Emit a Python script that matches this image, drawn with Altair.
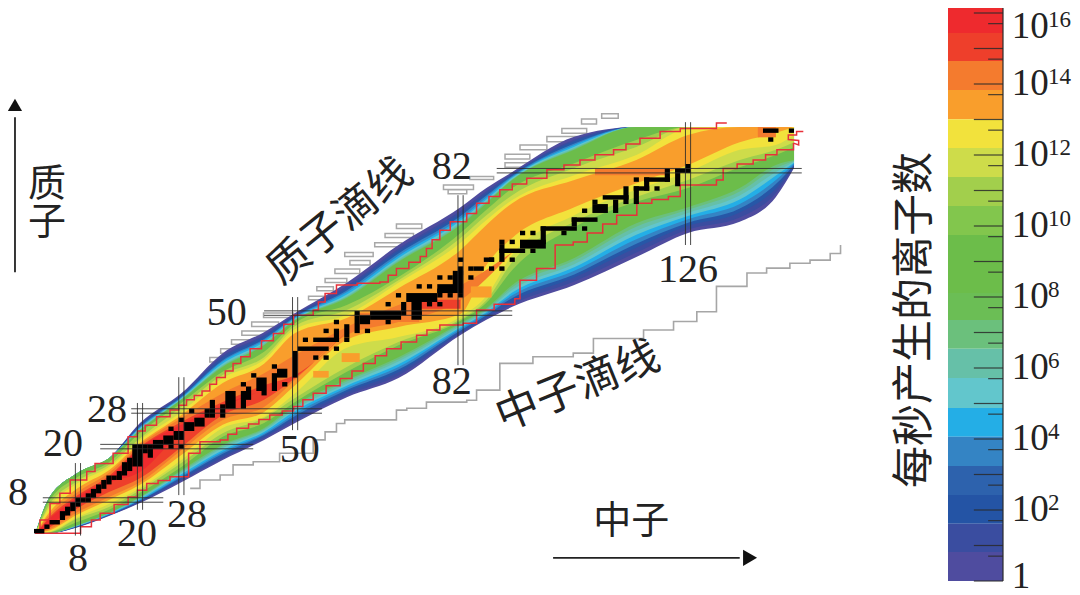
import altair as alt
import pandas as pd

# ---- neutron-number columns at which the production contours were read ----
N_COLS = [0, 2, 8, 14, 20, 28, 36, 44, 50, 60, 70, 82, 87, 92, 104, 116, 126, 136, 143, 146.5]
T = 91.8

# upper (proton-rich) edge, in Z, of every contour level
U01 = [1.3, 7.5, 14.1, 17.4, 25.3, 32, 41, 45.7, 50, 56.8, 65.3, 73.8, 78.1, 81.7, 89.6, T, T, T, T, T]
U02 = [1.3, 7.5, 14.1, 17.4, 25.0, 31.7, 40.4, 45.1, 49.7, 56.1, 64.5, 73, 77.4, 81.3, 89, T, T, T, T, T]
U03 = [1.3, 7.5, 14.1, 17.4, 24.7, 31.5, 39.9, 44.7, 49.4, 55.6, 64, 72.4, 76.9, 81.1, 88.6, T, T, T, T, T]
U04 = [1.3, 7.5, 14.1, 17.4, 24.5, 31.2, 39.4, 44.2, 49.2, 55.1, 63.4, 71.8, 76.4, 80.8, 88.1, T, T, T, T, T]
U05 = [1.3, 7.5, 14.1, 17.4, 24.3, 31, 39.1, 43.9, 49, 54.7, 62.9, 71.3, 76, 80.6, 87.8, T, T, T, T, T]
U06 = [1.3, 7.5, 14.1, 17.4, 24.1, 30.9, 38.7, 43.5, 48.8, 54.2, 62.4, 70.8, 75.5, 80.4, 87.4, T, T, T, T, T]
U07 = [1.3, 7.5, 14.1, 17.4, 23.9, 30.7, 38.3, 43.2, 48.6, 53.8, 62, 70.3, 75.1, 80.1, 87.1, T, T, T, T, T]
U08 = [1.3, 7.5, 14.1, 17.4, 23.8, 30.6, 38.1, 42.9, 48.5, 53.6, 61.7, 70, 74.9, 80, 86.9, T, T, T, T, T]
U09 = [1.3, 7.5, 14.1, 17.4, 23.7, 30.5, 37.9, 42.8, 48.4, 53.4, 61.5, 69.8, 74.7, 79.9, 86.7, T, T, T, T, T]
U10 = [1.3, 6.8, 13.2, 16.5, 23.1, 29.8, 36.8, 41.3, 47.8, 51.8, 58.1, 68, 73.2, 78.1, 83.7, 88.9, T, T, T, T]
U11 = [1.0, 6, 12.3, 15.9, 21.9, 28.9, 36.1, 40.1, 47.1, 50.7, 57.4, 66.9, 72, 76.5, 82.6, 87.3, T, T, T, T]
U12 = [1.0, 5.5, 11.8, 15.4, 21.5, 27.8, 35.4, 39.5, 46.4, 49.6, 56.8, 65.8, 70.9, 75.4, 81, 85.5, 91.4, T, T, T]
U13 = [0.8, 4.5, 10.7, 14.7, 20.8, 27.1, 34.3, 38.6, 45.5, 48.9, 55.6, 64.2, 69.8, 74.7, 79.9, 84.4, 90, T, T, T]

# lower (neutron-rich) edge, in Z, of every contour level
D01 = [0.5, 0.5, 1.9, 4.4, 7.3, 12, 17, 21.5, 25.3, 31.1, 35.4, 45.1, 48.5, 51.4, 56.3, 62.6, 68, 70.5, 76.1, 82.6]
D02 = [0.5, 0.5, 2, 4.5, 7.5, 12.4, 17.4, 21.9, 25.8, 31.6, 36, 45.4, 48.8, 52, 57.1, 63.6, 68.8, 71.5, 77, 82.8]
D03 = [0.5, 0.5, 2, 4.6, 7.7, 12.7, 17.9, 22.2, 26.4, 32.2, 36.7, 45.8, 49.2, 52.7, 58, 64.7, 69.6, 72.6, 78, 83.1]
D04 = [0.5, 0.5, 2.1, 4.7, 7.9, 13.1, 18.4, 22.6, 26.9, 32.7, 37.3, 46.1, 49.5, 53.4, 58.7, 65.6, 70.3, 73.5, 79, 83.3]
D05 = [0.5, 0.5, 2.2, 4.8, 8, 13.4, 18.8, 22.9, 27.4, 33.2, 37.9, 46.5, 49.9, 54, 59.5, 66.6, 71.1, 74.5, 79.9, 83.6]
D06 = [0.5, 0.5, 2.2, 4.9, 8.2, 13.8, 19.2, 23.3, 28, 33.7, 38.5, 46.8, 50.2, 54.6, 60.3, 67.6, 71.8, 75.5, 80.9, 83.8]
D07 = [0.5, 0.5, 2.3, 5, 8.4, 14.1, 19.7, 23.6, 28.4, 34.1, 39.1, 47.1, 50.5, 55.2, 61, 68.5, 72.5, 76.4, 81.7, 84]
D08 = [0.5, 0.5, 2.4, 5, 8.6, 14.4, 20.1, 23.9, 28.9, 34.6, 39.6, 47.5, 50.8, 55.8, 61.8, 69.4, 73.2, 77.3, 82.6, 84.2]
D09 = [0.5, 0.5, 2.4, 5.1, 8.7, 14.7, 20.4, 24.2, 29.3, 35, 40.1, 47.8, 51.1, 56.3, 62.4, 70.2, 73.8, 78.1, 83.3, 84.4]
D10 = [0.5, 0.6, 3.1, 5.8, 9.6, 15.4, 22.2, 25.3, 30, 36.8, 42.8, 48.3, 52.3, 59.7, 69.3, 75, 78.1, 82.8, 85.5, 87.3]
D11 = [0.7, 0.7, 3.9, 6.4, 10.2, 16.3, 23, 26.4, 30.9, 37.9, 43.5, 48.6, 52.9, 61.5, 70.5, 76.1, 79.9, 84.4, 86.7, 88.4]
D12 = [0.7, 0.8, 4.2, 7.1, 10.7, 17, 24.2, 26.7, 32, 42.2, 44.6, 49.2, 53.8, 63.1, 72, 77.7, 81.7, 86.7, 87.8, 90]
D13 = [0.7, 1, 4.8, 8, 11.4, 18.1, 24.9, 27.8, 33.8, 44, 46.9, 49.8, 60.8, 66.9, 73.8, 79.2, 83.3, 88.4, 90.5, T]

# hottest levels exist only at low N
N14 = [0, 2, 8, 14, 20, 28, 36, 44, 50, 60, 70, 82, 92]
U14 = [0.8, 4, 9.8, 14.1, 20.4, 26.4, 32, 36.5, 40.6, 46.9, 51.8, 56.3, 63.7]
D14 = [0.7, 1.2, 5.3, 8.7, 12, 19.2, 26, 28.9, 35, 45.1, 48, 52.9, 63.7]
N15 = [0, 2, 8, 14, 20, 28, 36, 44, 50, 60]
U15 = [0.6, 3.5, 9.1, 13.4, 19.9, 25.5, 30, 33.8, 36.1, 45.8]
D15 = [0.4, 1.5, 6.2, 9.8, 12.9, 19.9, 27.1, 30.5, 35.4, 45.8]
N16 = [0, 2, 8, 14, 20, 28, 36, 44]
U16 = [0.6, 3.2, 8.7, 12.9, 19.7, 24.9, 29.3, 32.7]
D16 = [0.4, 2, 6.9, 11.8, 14.3, 23.3, 28.9, 32.7]

LEVEL_COLORS = ["#4f4c9f", "#3a4da0", "#2757a7", "#3484c4", "#24aee6", "#62c6cc", "#66c0a8", "#6bc07c",
                "#6cbd4a", "#9fce4c", "#cedc4a", "#f2e23c", "#f99e2c", "#f47b2e", "#ee3f2b", "#ee2a2e"]

# small isolated patches: n0, n1, z0, z1, colour
PATCHES = [(74, 82, 51, 53, "#ee3f2b"), (62, 74, 48, 50, "#f47b2e"), (108, 122, 81, 82.5, "#f47b2e"),
           (139.5, 143, 89.5, 91.8, "#f47b2e"), (53.5, 56.5, 35.5, 37, "#f99e2c"), (59, 62.5, 39, 41, "#f99e2c"),
           (84, 88, 53.5, 56, "#f99e2c")]

# black cells: runs n0, n1, z0, z1 (inclusive)
BLACK_RUNS = [(0, 1, 1, 1), (2, 2, 2, 2), (3, 4, 3, 3), (5, 5, 4, 5), (6, 6, 5, 6), (7, 7, 6, 7), (8, 8, 7, 8),
              (9, 9, 8, 8), (10, 10, 8, 9), (11, 11, 9, 10), (12, 12, 10, 11), (13, 13, 11, 12), (14, 14, 12, 13),
              (15, 15, 13, 13), (16, 16, 13, 14), (17, 17, 14, 16), (18, 18, 15, 17), (19, 20, 16, 20), (21, 21, 19, 20),
              (22, 22, 18, 20), (23, 24, 20, 21), (25, 26, 21, 22), (27, 28, 22, 23), (29, 30, 24, 25), (31, 32, 25, 26),
              (33, 33, 27, 28), (34, 34, 27, 30), (36, 36, 27, 29), (37, 38, 29, 32), (40, 40, 29, 32), (41, 41, 31, 33),
              (43, 44, 33, 35), (46, 46, 33, 36), (47, 48, 36, 37), (50, 50, 36, 41),
              (51, 56, 42, 42), (54, 58, 44, 44), (58, 58, 44, 46), (60, 60, 45, 47), (62, 62, 46, 49), (63, 64, 48, 49),
              (65, 70, 49, 50), (71, 71, 50, 52), (72, 77, 53, 54), (73, 74, 49, 53), (78, 78, 54, 55), (78, 82, 55, 56),
              (81, 82, 56, 59), (82, 82, 59, 60), (85, 86, 60, 60), (87, 88, 62, 62), (90, 90, 62, 65), (90, 94, 64, 64),
              (94, 98, 65, 66), (98, 98, 66, 69), (98, 104, 69, 69), (104, 104, 70, 71), (104, 108, 71, 71), (108, 110, 73, 74),
              (112, 112, 73, 75), (110, 114, 76, 76), (114, 114, 75, 78), (116, 116, 75, 78), (116, 118, 78, 78), (118, 118, 78, 80),
              (118, 122, 80, 80), (122, 122, 80, 82), (124, 124, 79, 82), (124, 126, 82, 82), (126, 126, 82, 83),
              (141, 143, 91, 91), (146, 146, 91, 91)]
BLACK_DOTS = [(26, 24), (28, 26), (30, 28), (26, 20), (28, 20), (44, 32), (40, 34), (42, 36), (46, 38), (48, 34),
              (54, 40), (56, 40), (52, 44), (56, 46), (58, 42), (58, 48), (60, 44), (64, 46), (68, 48), (62, 50),
              (68, 52), (70, 54), (76, 52), (78, 52), (80, 54), (74, 50), (74, 56), (76, 56), (78, 58), (80, 58),
              (84, 58), (82, 62), (82, 54), (84, 60), (88, 60), (90, 60), (88, 62), (90, 66), (92, 66), (92, 62),
              (94, 68), (96, 68), (96, 64), (102, 68), (106, 69), (106, 73), (108, 75), (116, 80), (120, 78), (142, 89)]

# red boundary of the known nuclides
RED_UP_N = [0, 0.65, 2.6, 4.5, 6.5, 9.7, 11.3, 14.8, 17.7, 19.5, 21, 23.2, 25.8, 27.5, 29, 30.5, 32, 33.5, 34.8, 36.5, 38, 39.5, 41.3, 43.5, 45.8, 47.8, 49.7, 53.5, 54.5, 55.8, 58, 62, 66.4, 68, 69.6,
            72, 74.2, 75.4, 76.5, 78, 80, 83.2, 85.1, 87.5, 89.6, 92, 94.8, 98.7, 102, 105.1, 108, 111.6, 114, 116.7, 120.6, 124.5, 131.5, 133.5]
RED_UP_Z = [1.3, 3.5, 7.2, 9.5, 12.5, 14.4, 16.2, 18.5, 22.2, 23.5, 24.8, 26.7, 28.2, 29.3, 30.5, 31.5, 32.5, 34, 35.5, 37, 38.7, 40.2, 42, 43.8, 45.4, 47.5, 49.5, 50.7, 52.5, 54.4, 56.3, 56.7, 57, 58.5, 60,
            61.4, 62.7, 64.5, 66.5, 68.6, 70.5, 72.4, 74.7, 76.2, 77.7, 79, 80.3, 82.2, 83.3, 84.4, 85.6, 86.7, 88, 89.3, 90.8, 91.5, 92.7, 92.7]
RED_DN_N = [-0.3, 6.5, 8.5, 10.6, 12.3, 15, 17.7, 19.5, 21.3, 23.5, 25.8, 29.4, 31.6, 35.5, 37, 38.7, 41, 43, 45.1, 47.5, 49.7, 51.5, 53.5, 56, 58.7, 61, 63.2, 65.5, 67.7, 70.5, 73.5, 75.5, 78, 82.5, 85.1, 88.5, 92.5, 93.5, 96.7,
            100.3, 103.8, 106.5, 109.5, 112.2, 116.1, 119, 122.2, 124.5, 131.5, 132.8, 135.5, 138.6, 141, 143.2, 146.4]
RED_DN_Z = [0.5, 0.5, 2, 3.5, 5, 7, 8.7, 10.2, 11.7, 12.4, 13.2, 18.5, 21.1, 21.5, 22.8, 24.1, 25.1, 26.1, 27.1, 28, 29, 30.5, 32, 33.7, 35.3, 37, 38.7, 40.4, 42, 43.5, 45, 46.2, 47.3, 47.7, 50.7, 52, 53.2, 57.4, 60,
            65.3, 66, 68, 70, 72, 74.7, 75.5, 76.2, 78.8, 79.9, 82.5, 83.5, 84.4, 85.6, 86.7, 88.2]
RED_END_N = [146.4, 147.4, 147.4, 145.4, 145.4, 147, 147, 148.3]
RED_END_Z = [88.2, 87.8, 88.8, 89, 90, 90, 90.8, 90.8]

# neutron drip line (grey)
NDRIP_N = [29.7, 31.6, 35.5, 38, 41.9, 47, 53.5, 55.8, 58, 59.6, 69.6, 71.6, 75.4, 83.2, 85.1, 89.6, 96, 103.8, 107.7, 117.4, 123.2, 127.7, 131.5, 137.4, 141.2, 145.7, 149.6, 153.5, 155.5]
NDRIP_Z = [10.6, 12.5, 13.6, 15.9, 16.6, 18.5, 21.5, 23.3, 25.2, 26, 28.2, 28.6, 30, 30.4, 32.7, 38.7, 40.2, 41, 44.3, 46.2, 48.1, 50.3, 56, 59, 60.1, 61.2, 61.9, 63.4, 65.3]

# proton drip line outlines: n0, n1, z0, z1
PDRIP = [(109.3, 112.5, 93.8, 94.8), (105.4, 108.3, 92.5, 93.6), (101.6, 106.4, 90.4, 91.5), (98.7, 104.5, 88.5, 89.7),
         (93.5, 98.7, 86.7, 87.8), (90.6, 95.4, 84.6, 85.7), (90.6, 95.4, 82.8, 83.8), (83.8, 88.4, 80, 80.7),
         (78.7, 84.5, 77.8, 78.8), (79.6, 83.2, 76.8, 77.7), (69.6, 74.5, 69, 70), (67.4, 72.9, 67, 67.9),
         (65.4, 70.6, 64.9, 65.8), (59.6, 65.1, 62.7, 63.6), (60.6, 64.5, 60.8, 61.8), (57.7, 62.5, 58.9, 59.9),
         (55.8, 60, 56.9, 57.8), (54.2, 57.4, 55, 55.9), (52.6, 55.8, 53, 53.8), (43.9, 49.7, 49, 50),
         (41.6, 46.8, 47, 48), (39.7, 44.5, 45, 46), (37.7, 41.9, 43, 44), (35.6, 40.3, 41, 42), (33.5, 38, 39, 40)]

# magic numbers: value, from, to
MAGIC_N = [(8, 0, 16.3), (20, 5.8, 29.8), (28, 9.1, 35.6), (50, 23.7, 53.6), (82, 38.3, 76.5), (126, 65.3, 92.9)]
MAGIC_Z = [(8, 1.2, 24.5), (20, 12.3, 41.9), (28, 18.3, 55.2), (50, 44, 92), (82, 89, 148)]
NUMBER_LABELS = [("8", -3.6, 9.6), ("20", 5.1, 20.6), ("28", 13.6, 28.2), ("50", 36.8, 50), ("82", 80.3, 82.8),
                 ("8", 8, -5.3), ("20", 19.4, 0.4), ("28", 29.1, 4.6), ("50", 50.9, 19.2), ("82", 80.3, 34.5), ("126", 126, 59.7)]
WORD_LABELS = [("质子滴线", 58.7, 70.5, 321), ("中子滴线", 104.7, 33.4, 338), ("质\n子", 2, 78.8, 0), ("中子", 115, 3.1, 0)]

# colour bar
BAND_EDGES = [16.25, 15.44, 14.65, 13.83, 13.01, 12.2, 11.38, 10.56, 9.75, 8.93, 8.11, 7.35, 6.54, 5.72, 4.87, 4.06, 3.24, 2.42, 1.61, 0.82, 0]
BAND_COLORS = ["#ee2a2e", "#ee3f2b", "#f47b2e", "#f99e2c", "#f2e23c", "#cedc4a", "#a2cf4c", "#82c64d", "#6cbd4a", "#6cbd4a",
               "#6bbe55", "#6bc07c", "#66c0a8", "#62c6cc", "#24aee6", "#3484c4", "#2d62ad", "#2454a5", "#3a4da0", "#4f4c9f"]
MAJOR = list(range(0, 17))
MINOR = [0.7, 1.7, 2.7, 3.7, 4.7, 5.7, 6.7, 7.7, 8.7, 9.7, 10.7, 11.7, 12.7, 13.7, 14.7, 15.7]
CB_LABELS = [("1", 0.1, ""), ("10", 2, "2"), ("10", 4, "4"), ("10", 6, "6"), ("10", 8, "8"), ("10", 10, "10"),
             ("10", 12, "12"), ("10", 14, "14"), ("10", 15.6, "16")]

SERIF = "Liberation Serif"
CJK = "Noto Sans CJK SC"
W, H = 1064, 587
XS = alt.Scale(domain=[-5.532, 200.27], nice=False, zero=False)
YS = alt.Scale(domain=[-13.35, 118.56], nice=False, zero=False)
CXS = alt.Scale(domain=[0, 1], range=[940, 995], nice=False, zero=False)
CYS = alt.Scale(domain=[0, 16], range=[573, 5], nice=False, zero=False)


def X(f):
    return alt.X(f, type="quantitative", scale=XS, axis=None)


def Y(f):
    return alt.Y(f, type="quantitative", scale=YS, axis=None)


def CX(f):
    return alt.X(f, type="quantitative", scale=CXS, axis=None)


def CY(f):
    return alt.Y(f, type="quantitative", scale=CYS, axis=None)


layers = []

# grey proton drip outlines and neutron drip line go underneath
pd_df = pd.DataFrame(PDRIP, columns=["n0", "n1", "z0", "z1"])
layers.append(alt.Chart(pd_df).mark_rect(fill="white", stroke="#a8a8a8", strokeWidth=1.5).encode(
    x=X("n0"), x2="n1", y=Y("z0"), y2="z1"))
layers.append(alt.Chart(pd.DataFrame({"n": NDRIP_N, "z": NDRIP_Z})).mark_line(
    interpolate="step-after", color="#a6a6a6", strokeWidth=1.6).encode(x=X("n"), y=Y("z")))

# nested contour levels
levels = [(N_COLS, U01, D01), (N_COLS, U02, D02), (N_COLS, U03, D03), (N_COLS, U04, D04), (N_COLS, U05, D05),
          (N_COLS, U06, D06), (N_COLS, U07, D07), (N_COLS, U08, D08), (N_COLS, U09, D09), (N_COLS, U10, D10),
          (N_COLS, U11, D11), (N_COLS, U12, D12), (N_COLS, U13, D13), (N14, U14, D14), (N15, U15, D15), (N16, U16, D16)]
for (ns, up, dn), col in zip(levels, LEVEL_COLORS):
    df = pd.DataFrame({"n": ns, "up": up, "dn": dn})
    layers.append(alt.Chart(df).mark_area(color=col, interpolate="monotone", opacity=1).encode(
        x=X("n"), y=Y("dn"), y2="up"))

# patches
patch_df = pd.DataFrame(PATCHES, columns=["n0", "n1", "z0", "z1", "c"])
layers.append(alt.Chart(patch_df).mark_rect().encode(
    x=X("n0"), x2="n1", y=Y("z0"), y2="z1", color=alt.Color("c:N", scale=None)))

# red contour
for ns, zs, interp in [(RED_UP_N, RED_UP_Z, "step-after"), (RED_DN_N, RED_DN_Z, "step-after")]:
    layers.append(alt.Chart(pd.DataFrame({"n": ns, "z": zs})).mark_line(
        interpolate=interp, color="#e8303a", strokeWidth=1.5).encode(x=X("n"), y=Y("z")))
layers.append(alt.Chart(pd.DataFrame({"n": RED_END_N, "z": RED_END_Z, "i": list(range(len(RED_END_N)))})).mark_line(
    color="#e8303a", strokeWidth=1.5).encode(x=X("n"), y=Y("z"), order="i:Q"))

# black cells
runs = BLACK_RUNS + [(n, n, z, z) for n, z in BLACK_DOTS]
bk = pd.DataFrame(runs, columns=["n0", "n1", "z0", "z1"])
bk["a"], bk["b"], bk["c"], bk["d"] = bk.n0 - 0.5, bk.n1 + 0.5, bk.z0 - 0.5, bk.z1 + 0.5
layers.append(alt.Chart(bk).mark_rect(color="black").encode(x=X("a"), x2="b", y=Y("c"), y2="d"))

# magic number lines
vm = pd.DataFrame([(m + s, a, b) for m, a, b in MAGIC_N for s in (-0.5, 0.5)], columns=["n", "a", "b"])
hm = pd.DataFrame([(m + s, a, b) for m, a, b in MAGIC_Z for s in (-0.5, 0.5)], columns=["z", "a", "b"])
layers.append(alt.Chart(vm).mark_rule(color="#2a2a2a", strokeWidth=1, opacity=0.85).encode(x=X("n"), y=Y("a"), y2="b"))
layers.append(alt.Chart(hm).mark_rule(color="#2a2a2a", strokeWidth=1, opacity=0.85).encode(y=Y("z"), x=X("a"), x2="b"))

# text
layers.append(alt.Chart(pd.DataFrame(NUMBER_LABELS, columns=["t", "n", "z"])).mark_text(
    font=SERIF, fontSize=40, color="#222").encode(x=X("n"), y=Y("z"), text="t:N"))
for t, n, z, ang in WORD_LABELS:
    size = 43 if len(t) == 4 else 38
    layers.append(alt.Chart(pd.DataFrame({"t": [t], "n": [n], "z": [z]})).mark_text(
        font=CJK, fontSize=size, angle=ang, color="#222", lineBreak="\n", lineHeight=38).encode(
        x=X("n"), y=Y("z"), text="t:N"))

# arrows
layers.append(alt.Chart(pd.DataFrame({"n": [-4.18], "a": [59.2], "b": [94]})).mark_rule(
    color="#222", strokeWidth=1.8).encode(x=X("n"), y=Y("a"), y2="b"))
layers.append(alt.Chart(pd.DataFrame({"z": [-5], "a": [99.9], "b": [136]})).mark_rule(
    color="#222", strokeWidth=1.8).encode(y=Y("z"), x=X("a"), x2="b"))
layers.append(alt.Chart(pd.DataFrame({"n": [-4.18], "z": [96.8]})).mark_point(
    shape="triangle-up", filled=True, color="#111", size=200, opacity=1).encode(x=X("n"), y=Y("z")))
layers.append(alt.Chart(pd.DataFrame({"n": [138], "z": [-5]})).mark_point(
    shape="triangle-right", filled=True, color="#111", size=260, opacity=1).encode(x=X("n"), y=Y("z")))

# colour bar
cb = pd.DataFrame({"hi": BAND_EDGES[:-1], "lo": BAND_EDGES[1:], "c": BAND_COLORS, "a": [0] * 20, "b": [1] * 20})
layers.append(alt.Chart(cb).mark_rect().encode(
    x=CX("a"), x2="b", y=CY("lo"), y2="hi", color=alt.Color("c:N", scale=None)))
layers.append(alt.Chart(pd.DataFrame({"e": MAJOR, "a": [0.47] * 17, "b": [1] * 17})).mark_rule(
    color="#2a2a2a", strokeWidth=1.2, opacity=0.85).encode(y=CY("e"), x=CX("a"), x2="b"))
layers.append(alt.Chart(pd.DataFrame({"e": MINOR, "a": [0.73] * 16, "b": [1] * 16})).mark_rule(
    color="#2a2a2a", strokeWidth=1.2, opacity=0.85).encode(y=CY("e"), x=CX("a"), x2="b"))
layers.append(alt.Chart(pd.DataFrame({"a": [1], "lo": [0], "hi": [16.25]})).mark_rule(
    color="#2a2a2a", strokeWidth=1.2).encode(x=CX("a"), y=CY("lo"), y2="hi"))
lab = pd.DataFrame(CB_LABELS, columns=["t", "e", "s"])
lab["x"], lab["sx"] = 1.16, 1.82
layers.append(alt.Chart(lab).mark_text(font=SERIF, fontSize=37, align="left", color="#222").encode(
    x=CX("x"), y=CY("e"), text="t:N"))
layers.append(alt.Chart(lab[lab.s != ""]).mark_text(font=SERIF, fontSize=23, align="left", dy=-7, color="#222").encode(
    x=CX("sx"), y=CY("e"), text="s:N"))
layers.append(alt.Chart(pd.DataFrame({"t": ["每秒产生的离子数"], "x": [-0.6], "e": [7.35]})).mark_text(
    font=CJK, fontSize=42, angle=270, color="#222").encode(x=CX("x"), y=CY("e"), text="t:N"))

chart = alt.layer(*layers).resolve_scale(x="independent", y="independent").properties(
    width=W, height=H, padding=0, background="white",
    autosize=alt.AutoSizeParams(type="none")
).configure_view(stroke=None)

chart.save("out.html", embed_options={"renderer": "svg", "actions": False})
